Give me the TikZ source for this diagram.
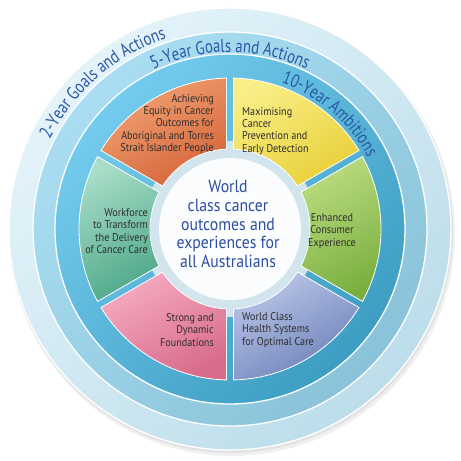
\documentclass[tikz,border=0pt]{standalone}
\usepackage{fontspec}
\setmainfont{PT Sans}
\newfontfamily\ringfont{PT Sans}[FakeStretch=0.8]
\newfontfamily\segfont{PT Sans}[FakeStretch=0.9]
\usetikzlibrary{decorations.text}

\definecolor{ringink}{HTML}{2A58A6}
\definecolor{midink}{HTML}{2B4DA2}
\definecolor{segink}{HTML}{2E2E2E}

\definecolor{twoA}{HTML}{E4F3FA}
\definecolor{twoB}{HTML}{BCDDEA}
\definecolor{fiveA}{HTML}{AADDF2}
\definecolor{fiveB}{HTML}{8AC3D9}
\definecolor{tenA}{HTML}{74CBED}
\definecolor{tenB}{HTML}{3D9DC2}
\definecolor{hub}{HTML}{D2E5ED}

\definecolor{orangeA}{HTML}{F2A474}
\definecolor{orangeB}{HTML}{D5653A}
\definecolor{yellowA}{HTML}{F8EE86}
\definecolor{yellowB}{HTML}{E9CF38}
\definecolor{greenA}{HTML}{BADB7E}
\definecolor{greenB}{HTML}{79AF3F}
\definecolor{blueA}{HTML}{BAC6E8}
\definecolor{blueB}{HTML}{6C80B8}
\definecolor{pinkA}{HTML}{F6AAC0}
\definecolor{pinkB}{HTML}{D86C8C}
\definecolor{tealA}{HTML}{A9DDC9}
\definecolor{tealB}{HTML}{4EA988}

\tikzset{
  ringline/.style={draw=white,line width=1.3pt},
  segtext/.style={text=segink,font=\segfont\fontsize{11.3}{12.2}\selectfont,inner sep=0pt},
  ringtext/.style={decorate,decoration={text along path,text align=center,
    text color=ringink,text={|\ringfont\fontsize{18.5}{18.5}\selectfont|#1}}}
}

\begin{document}
\begin{tikzpicture}[x=1pt,y=1pt]
\useasboundingbox (-230,-232) rectangle (231,229);
\coordinate (ZERO) at (0,0);

\fill[gray,opacity=.12] (2,-4) circle (223pt);
\fill[gray,opacity=.12] (1,-2) circle (222pt);

\path[ringline,top color=twoA,bottom color=twoB,shading angle=45] (ZERO) circle (221pt);
\path[ringline,top color=fiveA,bottom color=fiveB,shading angle=45] (ZERO) circle (197pt);
\path[ringline,top color=tenA,bottom color=tenB,shading angle=45] (ZERO) circle (175pt);

\path[ringtext={2-Year Goals and Actions}] (175:201pt) arc[start angle=175,end angle=87,radius=201pt];
\path[ringtext={5-Year Goals and Actions}] (135:177pt) arc[start angle=135,end angle=45,radius=177pt];
\path[ringtext={10-Year Ambitions}] (94:155pt) arc[start angle=94,end angle=4,radius=155pt];

\fill[hub] (ZERO) circle (88pt);

\foreach \a/\b/\cA/\cB in {90/150/orangeA/orangeB,30/90/yellowA/yellowB,-30/30/greenA/greenB,
  -90/-30/blueA/blueB,210/270/pinkA/pinkB,150/210/tealA/tealB}{
  \path[draw=white,line width=.8pt,top color=\cA,bottom color=\cB,shading angle=30]
    ({\a+1.33}:151pt) arc[start angle={\a+1.33},end angle={\b-1.33},radius=151pt]
    -- ({\b-2.51}:80pt) arc[start angle={\b-2.51},end angle={\a+2.51},radius=80pt] -- cycle;
}

\shade[inner color=white,outer color=white!88!hub] (ZERO) circle (71pt);

\node[segtext,anchor=east,align=right] (equity) at (-16,105)
  {Achieving\\Equity in Cancer\\Outcomes for\\Aboriginal and Torres\\Strait Islander People};
\node[segtext,anchor=west,align=left] (prevention) at (12,98)
  {Maximising\\Cancer\\Prevention and\\Early Detection};
\node[segtext,align=center] (consumer) at (102,-2)
  {Enhanced\\Consumer\\Experience};
\node[segtext,anchor=west,align=left] (systems) at (12,-101)
  {World Class\\Health Systems\\for Optimal Care};
\node[segtext,anchor=east,align=right] (foundations) at (-16,-101)
  {Strong and\\Dynamic\\Foundations};
\node[segtext,anchor=east,align=right] (workforce) at (-82,-2)
  {Workforce\\to Transform\\the Delivery\\of Cancer Care};

\node[text=midink,align=center,font=\segfont\fontsize{17.5}{18.8}\selectfont,inner sep=0pt] (vision) at (-2,5)
  {World\\class cancer\\outcomes and\\experiences for\\all Australians};

\end{tikzpicture}
\end{document}
